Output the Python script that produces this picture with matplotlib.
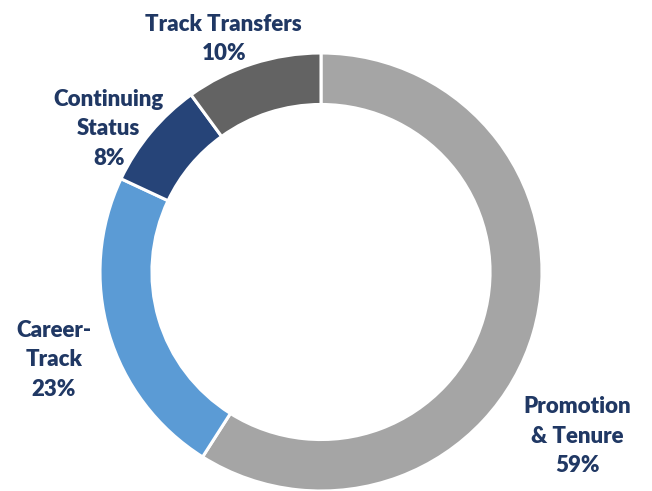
import matplotlib
matplotlib.use("Agg")
import matplotlib.pyplot as plt

categories = ["Promotion\n& Tenure", "Career-\nTrack", "Continuing\nStatus", "Track Transfers"]
values = [59, 23, 8, 10]
colors = ["#A5A5A5", "#5B9BD5", "#264478", "#636363"]
label_pos = [(1.16, -0.75), (-1.21, -0.40), (-0.96, 0.655), (-0.44, 1.065)]

fig = plt.figure(figsize=(6.52, 4.91), dpi=100)
ax = fig.add_axes([100/652, 0.0, 442/652, 438/491])
ax.pie(values, colors=colors, startangle=90, counterclock=False, radius=1.0,
       wedgeprops=dict(width=0.235, edgecolor="white", linewidth=2.2))
ax.set_xlim(-1, 1)
ax.set_ylim(-1, 1)
ax.set_aspect("auto")
ax.axis("off")

for cat, v, (x, y) in zip(categories, values, label_pos):
    ax.text(x, y, f"{cat}\n{v}%", ha="center", va="center", fontsize=16,
            fontweight="heavy", family="Lato", color="#203864", linespacing=1.5,
            clip_on=False)

fig.savefig("out.png", dpi=100)
